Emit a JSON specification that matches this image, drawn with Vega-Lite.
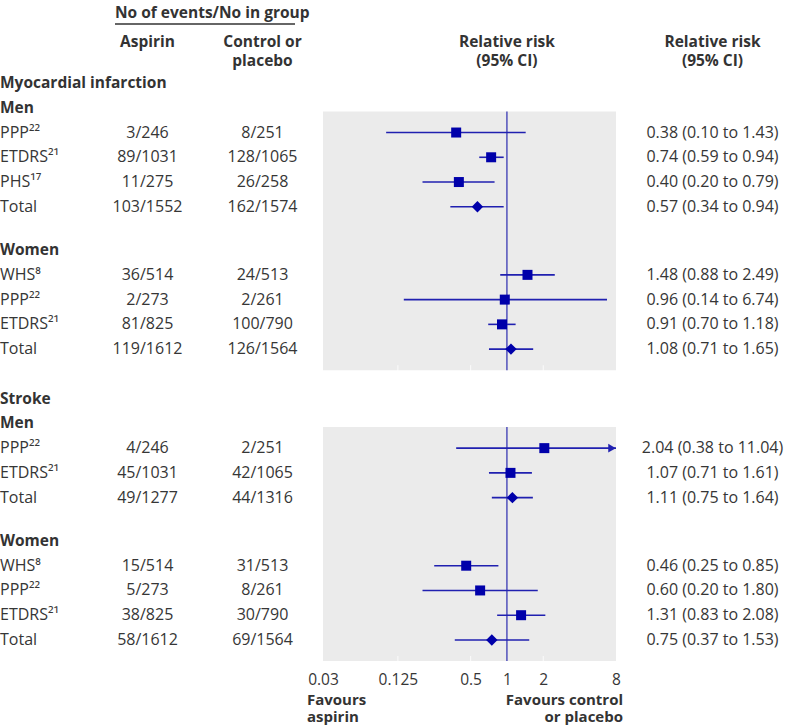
{
  "$schema": "https://vega.github.io/schema/vega-lite/v6.json",
  "padding": 0,
  "background": "white",
  "bounds": "flush",
  "spacing": 28,
  "config": {"view": {"stroke": null}, "font": "Open Sans"},
  "datasets": {
    "studies": [
      {"label": "PPP²²", "Aspirin": "3/246", "Control": "8/251", "rr": 0.38, "lo": 0.10, "hi": 1.43, "ci": "0.38 (0.10 to 1.43)", "row": 0, "kind": "study"},
      {"label": "ETDRS²¹", "Aspirin": "89/1031", "Control": "128/1065", "rr": 0.74, "lo": 0.59, "hi": 0.94, "ci": "0.74 (0.59 to 0.94)", "row": 1, "kind": "study"},
      {"label": "PHS¹⁷", "Aspirin": "11/275", "Control": "26/258", "rr": 0.40, "lo": 0.20, "hi": 0.79, "ci": "0.40 (0.20 to 0.79)", "row": 2, "kind": "study"},
      {"label": "Total", "Aspirin": "103/1552", "Control": "162/1574", "rr": 0.57, "lo": 0.34, "hi": 0.94, "ci": "0.57 (0.34 to 0.94)", "row": 3, "kind": "total"},
      {"label": "WHS⁸", "Aspirin": "36/514", "Control": "24/513", "rr": 1.48, "lo": 0.88, "hi": 2.49, "ci": "1.48 (0.88 to 2.49)", "row": 5.75, "kind": "study"},
      {"label": "PPP²²", "Aspirin": "2/273", "Control": "2/261", "rr": 0.96, "lo": 0.14, "hi": 6.74, "ci": "0.96 (0.14 to 6.74)", "row": 6.75, "kind": "study"},
      {"label": "ETDRS²¹", "Aspirin": "81/825", "Control": "100/790", "rr": 0.91, "lo": 0.70, "hi": 1.18, "ci": "0.91 (0.70 to 1.18)", "row": 7.75, "kind": "study"},
      {"label": "Total", "Aspirin": "119/1612", "Control": "126/1564", "rr": 1.08, "lo": 0.71, "hi": 1.65, "ci": "1.08 (0.71 to 1.65)", "row": 8.75, "kind": "total"},
      {"label": "PPP²²", "Aspirin": "4/246", "Control": "2/251", "rr": 2.04, "lo": 0.38, "hi": 11.04, "ci": "2.04 (0.38 to 11.04)", "row": 12.75, "kind": "study"},
      {"label": "ETDRS²¹", "Aspirin": "45/1031", "Control": "42/1065", "rr": 1.07, "lo": 0.71, "hi": 1.61, "ci": "1.07 (0.71 to 1.61)", "row": 13.75, "kind": "study"},
      {"label": "Total", "Aspirin": "49/1277", "Control": "44/1316", "rr": 1.11, "lo": 0.75, "hi": 1.64, "ci": "1.11 (0.75 to 1.64)", "row": 14.75, "kind": "total"},
      {"label": "WHS⁸", "Aspirin": "15/514", "Control": "31/513", "rr": 0.46, "lo": 0.25, "hi": 0.85, "ci": "0.46 (0.25 to 0.85)", "row": 17.5, "kind": "study"},
      {"label": "PPP²²", "Aspirin": "5/273", "Control": "8/261", "rr": 0.60, "lo": 0.20, "hi": 1.80, "ci": "0.60 (0.20 to 1.80)", "row": 18.5, "kind": "study"},
      {"label": "ETDRS²¹", "Aspirin": "38/825", "Control": "30/790", "rr": 1.31, "lo": 0.83, "hi": 2.08, "ci": "1.31 (0.83 to 2.08)", "row": 19.5, "kind": "study"},
      {"label": "Total", "Aspirin": "58/1612", "Control": "69/1564", "rr": 0.75, "lo": 0.37, "hi": 1.53, "ci": "0.75 (0.37 to 1.53)", "row": 20.5, "kind": "total"}
    ],
    "headings": [
      {"label": "Myocardial infarction", "row": -2},
      {"label": "Men", "row": -1},
      {"label": "Women", "row": 4.75},
      {"label": "Stroke", "row": 10.75},
      {"label": "Men", "row": 11.75},
      {"label": "Women", "row": 16.5}
    ],
    "panels": [
      {"outcome": "Myocardial infarction", "top": -0.85, "bottom": 9.6},
      {"outcome": "Stroke", "top": 11.9, "bottom": 21.35}
    ],
    "ticks": [
      {"rr": 0.125, "row": 9.6}, {"rr": 0.5, "row": 9.6}, {"rr": 2, "row": 9.6},
      {"rr": 0.125, "row": 21.35}, {"rr": 0.5, "row": 21.35}, {"rr": 2, "row": 21.35}
    ],
    "colheads": [
      {"col": "Aspirin", "text": "Aspirin"},
      {"col": "Control", "text": "Control or\nplacebo"}
    ]
  },
  "hconcat": [
    {
      "width": 295,
      "height": 661,
      "layer": [
        {
          "data": {"name": "headings"},
          "mark": {"type": "text", "align": "left", "baseline": "middle", "fontSize": 15.5, "fontWeight": "bold", "color": "#333333", "font": "Open Sans"},
          "encoding": {
            "x": {"datum": "Study", "type": "nominal", "bandPosition": 0, "scale": {"type": "band", "domain": ["Study", "Aspirin", "Control"], "paddingInner": 0.4348, "paddingOuter": 0, "align": 0}, "axis": null},
            "y": {"field": "row", "type": "quantitative", "scale": {"domain": [-5.354, 21.35], "reverse": true, "nice": false, "zero": false}, "axis": null},
            "text": {"field": "label"}
          }
        },
        {
          "data": {"name": "studies"},
          "mark": {"type": "text", "align": "left", "baseline": "middle", "fontSize": 16, "color": "#363636", "font": "Open Sans"},
          "encoding": {
            "x": {"datum": "Study", "type": "nominal", "bandPosition": 0, "scale": {"type": "band", "domain": ["Study", "Aspirin", "Control"], "paddingInner": 0.4348, "paddingOuter": 0, "align": 0}, "axis": null},
            "y": {"field": "row", "type": "quantitative", "scale": {"domain": [-5.354, 21.35], "reverse": true, "nice": false, "zero": false}, "axis": null},
            "text": {"field": "label"}
          }
        },
        {
          "data": {"name": "studies"},
          "transform": [{"fold": ["Aspirin", "Control"], "as": ["col", "n"]}],
          "mark": {"type": "text", "align": "center", "baseline": "middle", "fontSize": 16, "color": "#363636", "font": "Open Sans"},
          "encoding": {
            "x": {"field": "col", "type": "nominal", "scale": {"type": "band", "domain": ["Study", "Aspirin", "Control"], "paddingInner": 0.4348, "paddingOuter": 0, "align": 0}, "axis": null},
            "y": {"field": "row", "type": "quantitative", "scale": {"domain": [-5.354, 21.35], "reverse": true, "nice": false, "zero": false}, "axis": null},
            "text": {"field": "n"}
          }
        },
        {
          "data": {"name": "colheads"},
          "mark": {"type": "text", "align": "center", "baseline": "top", "fontSize": 15.5, "fontWeight": "bold", "color": "#333333", "font": "Open Sans", "lineBreak": "\n", "lineHeight": 19},
          "encoding": {
            "x": {"field": "col", "type": "nominal", "scale": {"type": "band", "domain": ["Study", "Aspirin", "Control"], "paddingInner": 0.4348, "paddingOuter": 0, "align": 0}, "axis": null},
            "y": {"datum": -3.92, "type": "quantitative", "scale": {"domain": [-5.354, 21.35], "reverse": true, "nice": false, "zero": false}, "axis": null},
            "text": {"field": "text"}
          }
        },
        {
          "data": {"values": [{"text": "No of events/No in group"}]},
          "mark": {"type": "text", "align": "left", "baseline": "middle", "fontSize": 15.5, "fontWeight": "bold", "color": "#333333", "font": "Open Sans"},
          "encoding": {
            "x": {"datum": "Aspirin", "type": "nominal", "bandPosition": 0, "scale": {"type": "band", "domain": ["Study", "Aspirin", "Control"], "paddingInner": 0.4348, "paddingOuter": 0, "align": 0}, "axis": null},
            "y": {"datum": -4.83, "type": "quantitative", "scale": {"domain": [-5.354, 21.35], "reverse": true, "nice": false, "zero": false}, "axis": null},
            "text": {"field": "text"}
          }
        },
        {
          "data": {"values": [{"text": "No of events/No in group"}]},
          "mark": {"type": "rule", "color": "#333333", "strokeWidth": 1.5},
          "encoding": {
            "x": {"datum": "Aspirin", "type": "nominal", "bandPosition": 0, "scale": {"type": "band", "domain": ["Study", "Aspirin", "Control"], "paddingInner": 0.4348, "paddingOuter": 0, "align": 0}, "axis": null},
            "x2": {"datum": "Control", "bandPosition": 1},
            "y": {"datum": -4.38, "type": "quantitative", "scale": {"domain": [-5.354, 21.35], "reverse": true, "nice": false, "zero": false}, "axis": null}
          }
        }
      ]
    },
    {
      "width": 293,
      "height": 661,
      "layer": [
        {
          "data": {"name": "panels"},
          "mark": {"type": "rect", "color": "#ebebeb"},
          "encoding": {
            "x": {"datum": 0.03, "type": "quantitative", "scale": {"type": "log", "domain": [0.03, 8], "nice": false, "clamp": true}, "axis": {"values": [0.03, 0.125, 0.5, 1, 2, 8], "format": "~g", "title": null, "domain": false, "ticks": false, "tickSize": 0, "grid": false, "labelPadding": 11, "labelFontSize": 15.5, "labelColor": "#363636", "labelFont": "Open Sans", "labelFlush": false, "labelOverlap": false}},
            "x2": {"datum": 8},
            "y": {"field": "top", "type": "quantitative", "scale": {"domain": [-5.354, 21.35], "reverse": true, "nice": false, "zero": false}, "axis": null},
            "y2": {"field": "bottom"}
          }
        },
        {
          "data": {"name": "ticks"},
          "mark": {"type": "tick", "orient": "vertical", "color": "white", "size": 10, "thickness": 1.2},
          "encoding": {
            "x": {"field": "rr", "type": "quantitative"},
            "y": {"field": "row", "type": "quantitative"}
          }
        },
        {
          "data": {"name": "panels"},
          "mark": {"type": "rule", "color": "#2a2ab0", "strokeWidth": 1.2},
          "encoding": {
            "x": {"datum": 1, "type": "quantitative"},
            "y": {"field": "top", "type": "quantitative"},
            "y2": {"field": "bottom"}
          }
        },
        {
          "data": {"name": "studies"},
          "mark": {"type": "rule", "color": "#2020b0", "strokeWidth": 1.6},
          "encoding": {
            "x": {"field": "lo", "type": "quantitative"},
            "x2": {"field": "hi"},
            "y": {"field": "row", "type": "quantitative"}
          }
        },
        {
          "data": {"name": "studies"},
          "transform": [{"filter": "datum.kind == 'study'"}],
          "mark": {"type": "point", "shape": "square", "filled": true, "opacity": 1, "size": 100, "color": "#0000aa"},
          "encoding": {
            "x": {"field": "rr", "type": "quantitative"},
            "y": {"field": "row", "type": "quantitative"}
          }
        },
        {
          "data": {"name": "studies"},
          "transform": [{"filter": "datum.kind == 'total'"}],
          "mark": {"type": "point", "shape": "diamond", "filled": true, "opacity": 1, "size": 130, "color": "#0000aa"},
          "encoding": {
            "x": {"field": "rr", "type": "quantitative"},
            "y": {"field": "row", "type": "quantitative"}
          }
        },
        {
          "data": {"name": "studies"},
          "transform": [{"filter": "datum.hi > 8"}],
          "mark": {"type": "point", "shape": "triangle-right", "filled": true, "opacity": 1, "size": 75, "color": "#2020b0", "xOffset": -4},
          "encoding": {
            "x": {"field": "hi", "type": "quantitative"},
            "y": {"field": "row", "type": "quantitative"}
          }
        },
        {
          "data": {"values": [{"text": "Relative risk\n(95% CI)"}]},
          "mark": {"type": "text", "align": "center", "baseline": "top", "fontSize": 15.5, "fontWeight": "bold", "color": "#333333", "font": "Open Sans", "lineBreak": "\n", "lineHeight": 19},
          "encoding": {
            "x": {"datum": 1, "type": "quantitative"},
            "y": {"datum": -3.92, "type": "quantitative"},
            "text": {"field": "text"}
          }
        },
        {
          "data": {"values": [{"text": "Favours\naspirin"}]},
          "mark": {"type": "text", "align": "left", "baseline": "top", "fontSize": 15, "fontWeight": "bold", "color": "#333333", "font": "Open Sans", "lineBreak": "\n", "lineHeight": 17.5, "dx": -16},
          "encoding": {
            "x": {"datum": 0.03, "type": "quantitative"},
            "y": {"datum": 22.64, "type": "quantitative"},
            "text": {"field": "text"}
          }
        },
        {
          "data": {"values": [{"text": "Favours control\nor placebo"}]},
          "mark": {"type": "text", "align": "right", "baseline": "top", "fontSize": 15, "fontWeight": "bold", "color": "#333333", "font": "Open Sans", "lineBreak": "\n", "lineHeight": 17.5, "dx": 7},
          "encoding": {
            "x": {"datum": 8, "type": "quantitative"},
            "y": {"datum": 22.64, "type": "quantitative"},
            "text": {"field": "text"}
          }
        }
      ]
    },
    {
      "width": 137,
      "height": 661,
      "layer": [
        {
          "data": {"name": "studies"},
          "mark": {"type": "text", "align": "center", "baseline": "middle", "fontSize": 16, "color": "#363636", "font": "Open Sans"},
          "encoding": {
            "y": {"field": "row", "type": "quantitative", "scale": {"domain": [-5.354, 21.35], "reverse": true, "nice": false, "zero": false}, "axis": null},
            "text": {"field": "ci"}
          }
        },
        {
          "data": {"values": [{"text": "Relative risk\n(95% CI)"}]},
          "mark": {"type": "text", "align": "center", "baseline": "top", "fontSize": 15.5, "fontWeight": "bold", "color": "#333333", "font": "Open Sans", "lineBreak": "\n", "lineHeight": 19},
          "encoding": {
            "y": {"datum": -3.92, "type": "quantitative", "scale": {"domain": [-5.354, 21.35], "reverse": true, "nice": false, "zero": false}, "axis": null},
            "text": {"field": "text"}
          }
        }
      ]
    }
  ]
}
